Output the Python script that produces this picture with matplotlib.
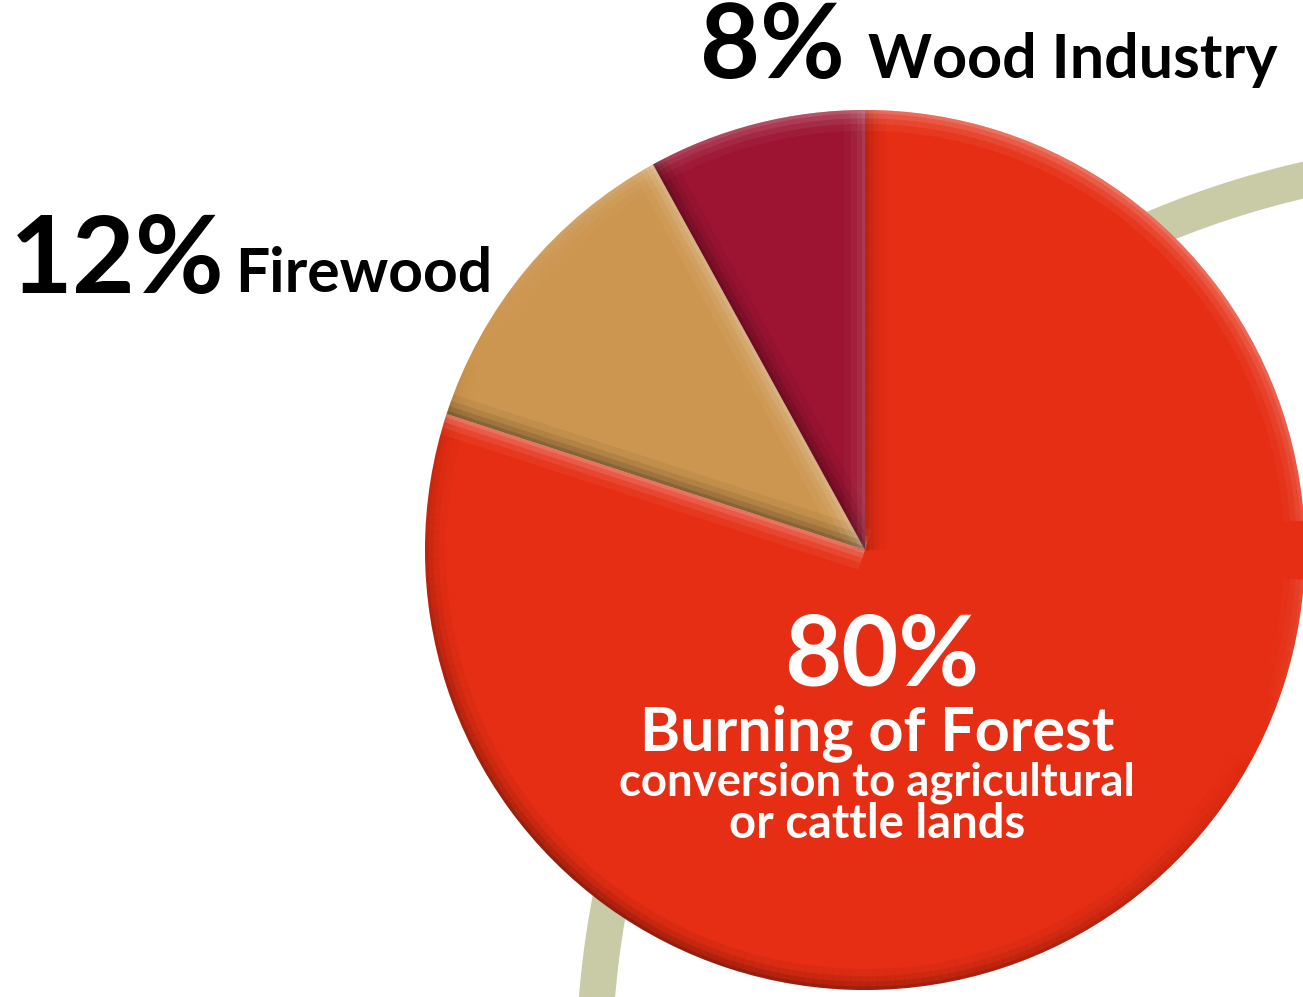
import numpy as np
import matplotlib.pyplot as plt
from matplotlib.patches import Circle
from matplotlib.collections import LineCollection

# data
labels = ['Burning of Forest', 'Firewood', 'Wood Industry']
shares = [80, 12, 8]
pct_text = ['80%', '12%', '8%']
colors = ['#e52e14', '#cd9650', '#9c1432']

W, H = 1303, 997
fig = plt.figure(figsize=(W / 100, H / 100), dpi=100)
ax = fig.add_axes([0, 0, 1, 1])

# pie centre and radius in pixels
cx, cy, R = 865, 550, 440

# background ring behind the pie
ring = Circle((1.464, -1.186), 2.08, fill=False, ec='#c9cba6', lw=26, zorder=0)
ax.add_patch(ring)

wedges, _ = ax.pie(shares, colors=colors, startangle=90, counterclock=False,
                   radius=1, center=(0, 0), wedgeprops=dict(lw=0))
ax.set_xlim(-cx / R, (W - cx) / R)
ax.set_ylim((cy - H) / R, cy / R)
ax.axis('off')

# soft bevel: light from upper right
light = np.array([0.45, 0.89])


def bevel(w):
    t1, t2 = np.radians(w.theta1), np.radians(w.theta2)
    rad = np.linspace(0, 1, 40)
    at = np.linspace(t1, t2, 240)
    pts = np.vstack([np.c_[rad[:-1] * np.cos(t1), rad[:-1] * np.sin(t1)],
                     np.c_[np.cos(at), np.sin(at)],
                     np.c_[rad[::-1][1:] * np.cos(t2), rad[::-1][1:] * np.sin(t2)]])
    segs = np.stack([pts[:-1], pts[1:]], axis=1)
    d = segs[:, 1] - segs[:, 0]
    n = np.c_[d[:, 1], -d[:, 0]]
    n = n / np.linalg.norm(n, axis=1, keepdims=True)
    s = np.nan_to_num(n @ light)
    for lw, a in [(30, .05), (20, .08), (12, .11), (5, .14)]:
        rgba = np.zeros((len(s), 4))
        rgba[s > 0, :3] = 1
        rgba[:, 3] = np.clip(a * np.abs(s), 0, 1)
        lc = LineCollection(segs, colors=rgba, linewidths=lw, capstyle='butt')
        lc.set_clip_path(w)
        ax.add_collection(lc)


for w in wedges:
    bevel(w)

renderer = fig.canvas.get_renderer()
num_font = ['Lato', 'DejaVu Sans']
lab_font = ['Lato', 'DejaVu Sans']


def put(x, y, s, width, ha='left', **kw):
    t = fig.text(x / W, 1 - y / H, s, ha=ha, va='baseline', **kw)
    bb = t.get_window_extent(renderer)
    t.set_fontsize(t.get_fontsize() * width / bb.width)
    return t


put(700, 78, pct_text[2], 145, fontsize=60, family=num_font, weight='bold')
put(868, 78, labels[2], 410, fontsize=40, family=lab_font, weight='bold')
put(10, 293, pct_text[1], 215, fontsize=60, family=num_font, weight='bold')
put(235, 292, labels[1], 257, fontsize=40, family=lab_font, weight='bold')

put(882, 685, pct_text[0], 195, ha='center', fontsize=60, family=num_font,
    weight='bold', color='white')
put(877, 750, labels[0], 475, ha='center', fontsize=40, family=lab_font,
    weight='bold', color='white')
put(877, 795, 'conversion to agricultural', 515, ha='center', fontsize=30,
    family=lab_font, weight='bold', color='white')
put(877, 838, 'or cattle lands', 295, ha='center', fontsize=30,
    family=lab_font, weight='bold', color='white')

fig.savefig('out.png', dpi=100)
